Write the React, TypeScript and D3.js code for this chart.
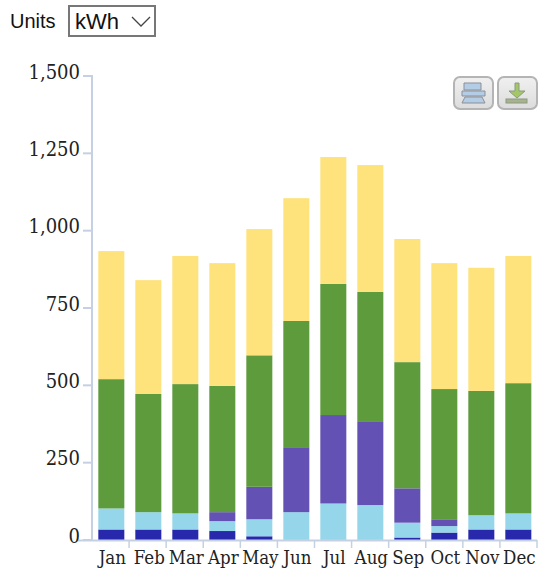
import React from "react";
import * as d3 from "d3";

const months = ["Jan","Feb","Mar","Apr","May","Jun","Jul","Aug","Sep","Oct","Nov","Dec"];
const seriesA = [34,34,34,29,12,0,0,0,8,24,34,34];
const seriesB = [68,56,52,32,55,90,118,113,48,21,46,52];
const seriesC = [0,0,0,29,105,210,286,271,111,22,0,0];
const seriesD = [418,382,418,408,425,408,424,418,408,421,402,421];
const seriesE = [414,368,414,397,408,397,410,410,398,407,398,411];
const allSeries = [seriesA, seriesB, seriesC, seriesD, seriesE];
const colors = ["#2828ad","#96d6ea","#6351b3","#5e9b3d","#fee27b"];
const yTicks = [0,250,500,750,1000,1250,1500];

const labelFont = "'DejaVu Serif Condensed', 'DejaVu Serif', serif";
const uiFont = "'Liberation Sans', Arial, sans-serif";

export default function App() {
  const x = d3.scaleBand().domain(months).range([92.4, 537.25]).paddingInner(0.297).paddingOuter(0.16);
  const y = d3.scaleLinear().domain([0, 1500]).range([540, 76]);
  const fmt = d3.format(",");
  const rows = months.map((m, i) => {
    const r: any = { m };
    allSeries.forEach((s, k) => (r["s" + k] = s[i]));
    return r;
  });
  const stacked = d3.stack().keys(allSeries.map((_, k) => "s" + k))(rows);
  const axisColor = "#c5d1e3";
  return (
    <svg width={539} height={572} style={{ position: "absolute", left: 0, top: 0 }}>
      <defs>
        <linearGradient id="btn" x1="0" y1="0" x2="0" y2="1">
          <stop offset="0" stopColor="#f0f0f0" />
          <stop offset="1" stopColor="#dcdcdc" />
        </linearGradient>
      </defs>
      <text x={10} y={28} fontFamily={uiFont} fontSize={20} fill="#111">Units</text>
      <rect x={69} y={6} width={86} height={30} fill="#fff" stroke="#777" strokeWidth={2} />
      <text x={75} y={29} fontFamily={uiFont} fontSize={22} fill="#111">kWh</text>
      <path d="M132 17 L141 26 L150 17" fill="none" stroke="#444" strokeWidth={1.3} />

      {stacked.map((layer, k) => (
        <g key={k} fill={colors[k]}>
          {layer.map((d: any, i) => (
            <rect key={i} x={x(months[i])} width={x.bandwidth()} y={y(d[1])} height={Math.max(0, y(d[0]) - y(d[1]))} />
          ))}
        </g>
      ))}

      <path d={`M83 76 H92 V540`} fill="none" stroke={axisColor} strokeWidth={2} />
      <path d={`M76 540.5 H537`} fill="none" stroke={axisColor} strokeWidth={2} />
      {yTicks.map(t => (
        <g key={t}>
          <line x1={83} x2={92} y1={y(t)} y2={y(t)} stroke={axisColor} strokeWidth={2} />
          <text x={80} y={y(t) + 2.5} textAnchor="end" fontFamily={labelFont} fontSize={20} fill="#222">{fmt(t)}</text>
        </g>
      ))}
      {months.map((m, i) => {
        const right = 92 + (445 / 12) * (i + 1);
        const c = (x(m) as number) + x.bandwidth() / 2;
        return (
          <g key={m}>
            <line x1={right} x2={right} y1={540} y2={548} stroke={axisColor} strokeWidth={1.5} />
            <text x={c + 1} y={564} textAnchor="middle" fontFamily={labelFont} fontSize={18.5} fill="#222">{m}</text>
          </g>
        );
      })}

      <g>
        <rect x={454} y={77} width={39} height={32} rx={6} fill="url(#btn)" stroke="#b4b4b4" strokeWidth={2} />
        <path d="M464 83 H481 V90 H464 Z M462 91 H485 V96 H462 Z M465 97 H482 L485 103 H462 Z" fill="#b4cde6" stroke="#8a8f99" strokeWidth={1} />
        <rect x={498} y={77} width={39} height={32} rx={6} fill="url(#btn)" stroke="#b4b4b4" strokeWidth={2} />
        <path d="M515 83 H519 V91 H525 L517 98 L509 91 H515 Z" fill="#a3c766" stroke="#8a9a80" strokeWidth={1} />
        <rect x={506} y={99} width={21} height={4} fill="#a8b38e" stroke="#8a9a80" strokeWidth={1} />
      </g>
    </svg>
  );
}
